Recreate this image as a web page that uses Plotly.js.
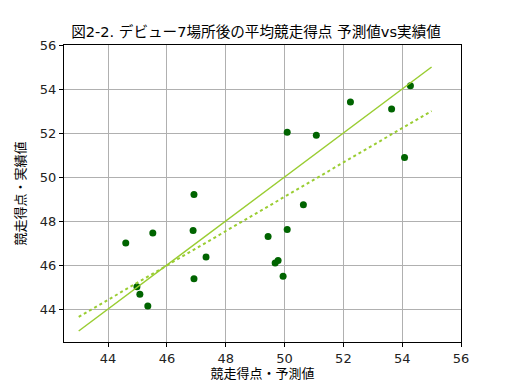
<!DOCTYPE html>
<html>
<head>
<meta charset="utf-8">
<script src="https://cdn.plot.ly/plotly-3.0.1.min.js"></script>
<style>html,body{margin:0;padding:0;background:#fff}</style>
</head>
<body>
<div id="chart" style="width:512px;height:384px"></div>
<script>
const predicted = [44.60, 45.52, 44.98, 45.08, 45.35, 46.92, 46.89, 47.33, 46.92, 49.44, 49.68, 49.78, 49.95, 50.09, 50.64, 50.09, 51.08, 52.24, 53.64, 54.28, 54.08];
const actual    = [47.00, 47.46, 45.01, 44.67, 44.14, 49.20, 47.57, 46.36, 45.37, 47.29, 46.09, 46.20, 45.49, 47.61, 48.74, 52.03, 51.90, 53.41, 53.09, 54.15, 50.89];
const identityX = [43, 55];
const identityY = [43, 55];
const fitX = [43, 55];
const fitY = [43.64, 53.0];
const xTicks = [44, 46, 48, 50, 52, 54, 56];
const yTicks = [44, 46, 48, 50, 52, 54, 56];

const font = "DejaVu Sans, Noto Sans CJK JP, sans-serif";

const traces = [
  {x: predicted, y: actual, mode: 'markers', type: 'scatter',
   marker: {color: '#006400', size: 7}},
  {x: identityX, y: identityY, mode: 'lines', type: 'scatter',
   line: {color: '#9acd32', width: 1.5}},
  {x: fitX, y: fitY, mode: 'lines', type: 'scatter',
   line: {color: '#9acd32', width: 2, dash: 'dot'}}
];

const axisCommon = {
  showgrid: true, gridcolor: '#b0b0b0', gridwidth: 1,
  zeroline: false, showline: true, linecolor: '#000', linewidth: 1, mirror: true,
  ticks: 'outside', ticklen: 4, tickcolor: '#000',
  tickfont: {family: font, size: 13, color: '#222'}
};

const layout = {
  width: 512, height: 384,
  margin: {l: 64, r: 51, t: 45, b: 42},
  paper_bgcolor: '#fff', plot_bgcolor: '#fff',
  showlegend: false,
  title: {text: '図2-2. デビュー7場所後の平均競走得点 予測値vs実績値',
          font: {family: font, size: 14.6, color: '#000'}, x: 0.5, xanchor: 'center', y: 0.917, yanchor: 'middle'},
  xaxis: Object.assign({}, axisCommon, {
    range: [42.5, 56], tickvals: xTicks, ticktext: xTicks.map(String),
    title: {text: '競走得点・予測値', font: {family: font, size: 13, color: '#000'}, standoff: 4}
  }),
  yaxis: Object.assign({}, axisCommon, {
    range: [42.5, 56], tickvals: yTicks, ticktext: yTicks.map(String),
    title: {text: '競走得点・実績値', font: {family: font, size: 13, color: '#000'}, standoff: 11}
  })
};

Plotly.newPlot('chart', traces, layout, {displayModeBar: false, staticPlot: true});
</script>
</body>
</html>
